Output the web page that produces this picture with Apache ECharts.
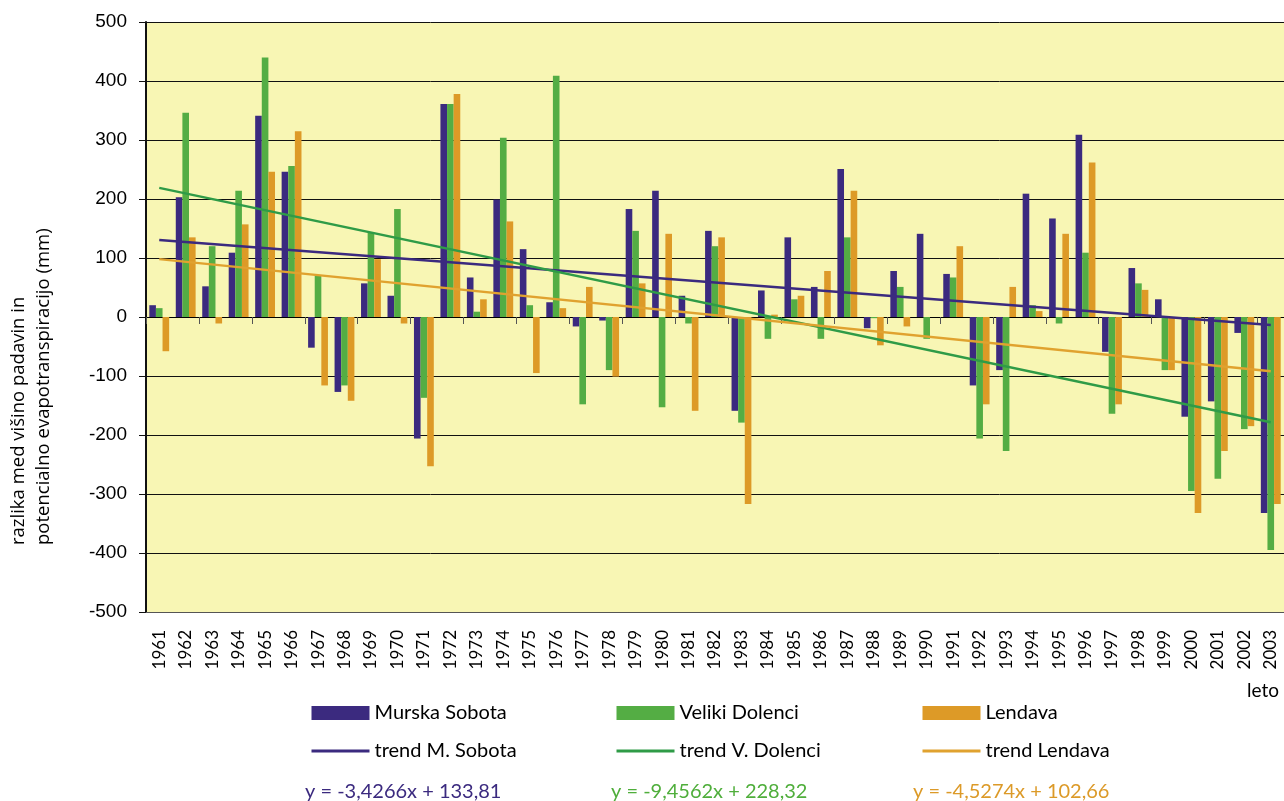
<!DOCTYPE html>
<html>
<head>
<meta charset="utf-8">
<script src="https://cdn.jsdelivr.net/npm/echarts@6/dist/echarts.min.js"></script>
<style>
  html, body { margin: 0; padding: 0; background: #fff; }
  #chart { width: 1284px; height: 801px; }
</style>
</head>
<body>
<div id="chart"></div>
<script>
  const years = ['1961','1962','1963','1964','1965','1966','1967','1968','1969','1970','1971','1972','1973','1974','1975','1976','1977','1978','1979','1980','1981','1982','1983','1984','1985','1986','1987','1988','1989','1990','1991','1992','1993','1994','1995','1996','1997','1998','1999','2000','2001','2002','2003'];

  const murskaSobota = [20, 203, 52, 109, 341, 246, -52, -127, 57, 36, -206, 361, 67, 199, 115, 25, -16, -6, 183, 214, 36, 146, -159, 45, 135, 51, 251, -19, 78, 141, 73, -116, -90, 209, 167, 309, -59, 83, 30, -169, -143, -27, -332];
  const velikiDolenci = [15, 346, 120, 214, 440, 256, 70, -116, 143, 183, -137, 361, 9, 304, 20, 409, -148, -90, 146, -153, -11, 120, -179, -37, 30, -37, 135, -2, 51, -37, 67, -206, -227, 20, -11, 109, -164, 57, -90, -295, -274, -190, -395];
  const lendava = [-58, 135, -11, 157, 246, 315, -116, -142, 98, -11, -253, 378, 30, 162, -95, 15, 51, -101, 57, 141, -159, 135, -317, 4, 36, 78, 214, -48, -16, 0, 120, -148, 51, 10, 141, 262, -148, 46, -90, -332, -227, -185, -317];

  // trend lines: value at 1961 and at 2003
  const trendNames = ['trend M. Sobota', 'trend V. Dolenci', 'trend Lendava'];
  const trendStart = [130.4, 218.9, 98.1];
  const trendEnd = [-13.5, -178.3, -92.0];
  const equations = ['y = -3,4266x + 133,81', 'y = -9,4562x + 228,32', 'y = -4,5274x + 102,66'];

  const barColors = ['#3b2a7f', '#54ad44', '#dd9a27'];
  const trendColors = ['#3b2a7f', '#2f9b47', '#e0a22f'];
  const eqColors = ['#3b2a7f', '#4fae3b', '#dc9a28'];
  const barNames = ['Murska Sobota', 'Veliki Dolenci', 'Lendava'];
  const barData = [murskaSobota, velikiDolenci, lendava];

  const chart = echarts.init(document.getElementById('chart'));

  const legendLeft = [305, 610, 916];
  const eqLeft = [305, 611, 913];

  const trendSeries = trendNames.map((name, i) => ({
    name,
    type: 'line',
    data: years.map((_, k) => k === 0 ? trendStart[i] : (k === years.length - 1 ? trendEnd[i] : null)),
    connectNulls: true,
    symbol: 'none',
    lineStyle: { color: trendColors[i], width: 2.5 },
    itemStyle: { color: trendColors[i] },
    z: 5,
  }));

  chart.setOption({
    animation: false,
    textStyle: { fontFamily: 'Lato' },
    grid: {
      left: 146, top: 22, right: -6, bottom: 189,
      show: true, backgroundColor: '#f8f6b4', borderWidth: 0,
    },
    xAxis: [
      {
        type: 'category',
        data: years,
        position: 'bottom',
        axisLine: { onZero: true, lineStyle: { color: '#000', width: 1 } },
        axisTick: { show: true, length: 7, lineStyle: { color: '#555' } },
        axisLabel: { show: false },
        splitLine: { show: false },
      },
      {
        type: 'category',
        data: years,
        position: 'bottom',
        axisLine: { onZero: false, show: true, lineStyle: { color: '#555', width: 1 } },
        axisTick: { show: false },
        axisLabel: {
          rotate: 90, margin: 18, fontSize: 17, color: '#000', fontFamily: 'Lato',
        },
      },
    ],
    yAxis: {
      type: 'value',
      min: -500, max: 500, interval: 100,
      axisLine: { show: true, lineStyle: { color: '#111', width: 2 } },
      axisTick: { show: true, length: 7, lineStyle: { color: '#111' } },
      axisLabel: { fontSize: 19, color: '#000', margin: 19, fontFamily: 'Liberation Sans' },
      splitLine: { show: true, lineStyle: { color: '#111', width: 1 } },
    },
    legend: [0, 1, 2].map(i => ({
      orient: 'vertical',
      left: legendLeft[i],
      top: 697,
      itemWidth: 58,
      itemHeight: 14,
      itemGap: 16,
      textStyle: { fontSize: 20, color: '#000', fontFamily: 'Lato', lineHeight: 22 },
      data: [
        { name: barNames[i], icon: 'rect' },
        {
          name: trendNames[i],
          itemStyle: { color: 'rgba(0,0,0,0)', borderWidth: 0, opacity: 0 },
          lineStyle: { width: 3 },
        },
      ],
    })),
    graphic: [
      {
        type: 'text',
        x: 6, y: 545, rotation: Math.PI / 2,
        style: {
          text: 'razlika med višino padavin in\npotencialno evapotranspiracijo (mm)',
          font: '18.5px "Open Sans"', fill: '#000', textAlign: 'left', textVerticalAlign: 'top', lineHeight: 25,
        },
      },
      {
        type: 'text', x: 1247, y: 681,
        style: { text: 'leto', font: '19px Lato', fill: '#000' },
      },
      ...equations.map((t, i) => ({
        type: 'text', x: eqLeft[i], y: 792,
        style: { text: t, font: '20px Lato', fill: eqColors[i], textVerticalAlign: 'middle' },
      })),
    ],
    series: [
      ...barNames.map((name, i) => ({
        name,
        type: 'bar',
        data: barData[i],
        barGap: '0%',
        barCategoryGap: '25%',
        itemStyle: { color: barColors[i] },
        z: 3,
      })),
      ...trendSeries,
    ],
  });
</script>
</body>
</html>
